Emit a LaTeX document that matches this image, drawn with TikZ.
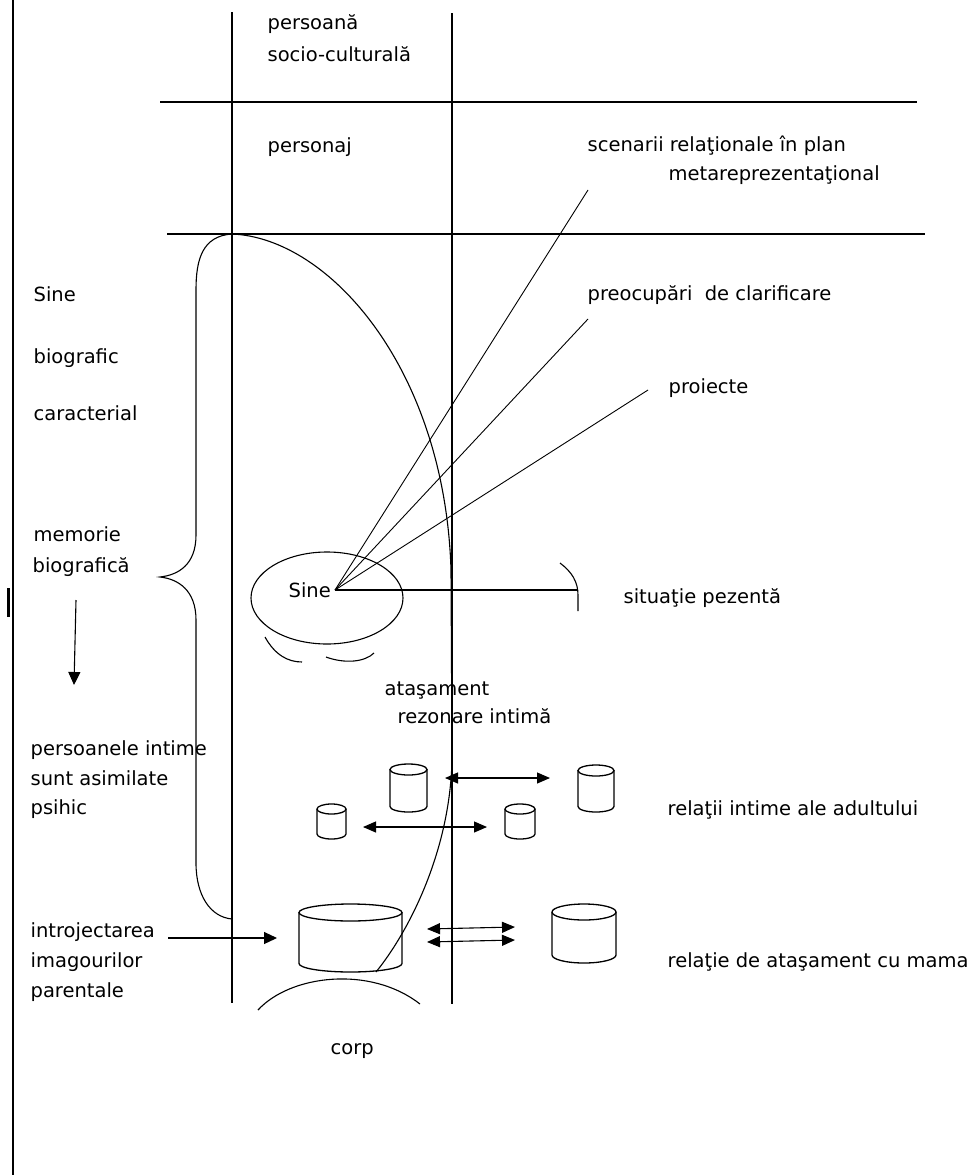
\documentclass[tikz,border=0pt]{standalone}
\usepackage{fontspec}
\setmainfont{DejaVu Sans}
\usetikzlibrary{arrows.meta,shapes.geometric}
\newcommand\mkcyl[6]{%
  \pgfmathsetmacro\cylcx{(#2+#3)/2}%
  \pgfmathsetmacro\cylrx{(#3-#2)/2}%
  \pgfmathsetmacro\cylcy{(#4+#5)/2}%
  \draw[cylline] (#2,#4+#6) -- (#2,#5-#6) arc[start angle=180,end angle=360,x radius=\cylrx pt,y radius=#6pt] -- (#3,#4+#6);
  \draw[cylline] (\cylcx,#4+#6) ellipse[x radius=\cylrx pt,y radius=#6pt];
  \node[inner sep=0,minimum width={(#3-#2)*1pt},minimum height={(#5-#4)*1pt}] (#1) at (\cylcx,\cylcy) {};%
}
\begin{document}
\begin{tikzpicture}[x=1pt,y=-1pt,line width=1.3pt,
  lbl/.style={anchor=base west,inner sep=0,font=\fontsize{19.5}{24}\selectfont},
  ray/.style={line width=0.9pt},
  cylline/.style={line width=1.3pt},
  arr/.style={-{Triangle[length=13pt,width=12pt]}},
  darr/.style={{Triangle[length=13pt,width=11pt]}-{Triangle[length=13pt,width=11pt]}}]
\useasboundingbox (0,0) rectangle (976,1175);
\fill[white] (0,0) rectangle (976,1175);

% frame and grid lines
\coordinate (b1) at (13,0); \coordinate (b2) at (13,1175);
\draw (b1) -- (b2);
\coordinate (m1) at (8,588); \coordinate (m2) at (8,617);
\draw[line width=3pt] (m1) -- (m2);
\coordinate (v1t) at (232,12); \coordinate (v1b) at (232,1003);
\coordinate (v2t) at (452,13); \coordinate (v2b) at (452,1004);
\draw (v1t) -- (v1b);
\draw (v2t) -- (v2b);
\coordinate (h1l) at (160,102); \coordinate (h1r) at (917,102);
\coordinate (h2l) at (167,234); \coordinate (h2r) at (925,234);
\draw (h1l) -- (h1r);
\draw (h2l) -- (h2r);

% brace
\draw[line width=1.1pt] (232,234) .. controls (202,236) and (196,260) .. (196,290) -- (196,535)
  .. controls (196,565) and (178,575) .. (160,577)
  .. controls (178,579) and (196,590) .. (196,620) -- (196,863)
  .. controls (196,895) and (210,917) .. (232,919);

% big curve
\draw[line width=1.1pt] (232,234) .. controls (330,238) and (445,370) .. (451,570) -- (452,760)
  .. controls (450,850) and (410,930) .. (376,972);

% Sine ellipse
\node[draw,ellipse,line width=1.1pt,minimum width=152pt,minimum height=92pt,inner sep=0] (self) at (327,598) {};
\node[lbl] (sinein) at (288,597) {Sine};
\coordinate (hub) at (335,590);
\coordinate (r1) at (588,190);
\coordinate (r2) at (588,319);
\coordinate (r3) at (648,390);
\draw[ray] (hub) -- (r1);
\draw[ray] (hub) -- (r2);
\draw[ray] (hub) -- (r3);
\coordinate (hend) at (578,590);
\draw (hub) -- (hend);
\draw[line width=1.1pt] (560,563) .. controls (572,572) and (578,582) .. (578,595) -- (578,611);
\draw[line width=1.1pt] (265,637) .. controls (275,655) and (288,662) .. (302,662);
\draw[line width=1.1pt] (326,657) .. controls (345,664) and (365,662) .. (374,653);

% corp arc
\draw[line width=1.1pt] (258,1010) .. controls (290,975) and (370,965) .. (420,1004);

% cylinders
\mkcyl{c1}{390}{427}{764}{812}{5.5}
\mkcyl{c2}{578}{614}{765}{812}{5.5}
\mkcyl{c3}{317}{346}{804}{839}{5}
\mkcyl{c4}{505}{535}{804}{839}{5}
\mkcyl{c5}{299}{402}{904}{972}{8.5}
\mkcyl{c6}{552}{616}{904}{963}{8}

% arrows
\coordinate (a1s) at (445,778); \coordinate (a1e) at (550,778);
\draw[darr,line width=1.1pt] (a1s) -- (a1e);
\coordinate (a2s) at (363,827); \coordinate (a2e) at (487,827);
\draw[darr,line width=1.1pt] (a2s) -- (a2e);
\coordinate (a3s) at (427,929); \coordinate (a3e) at (515,927);
\draw[darr,line width=1.1pt] (a3s) -- (a3e);
\coordinate (a4s) at (427,942); \coordinate (a4e) at (515,940);
\draw[darr,line width=1.1pt] (a4s) -- (a4e);
\coordinate (dl1) at (76,600); \coordinate (dl2) at (74,685);
\draw[arr,line width=1.1pt] (dl1) -- (dl2);
\coordinate (in1) at (168,938); \coordinate (in2) at (277,938);
\draw[arr,line width=1.1pt] (in1) -- (in2);

% labels
\node[lbl] (t1) at (267,29) {persoană};
\node[lbl] (t2) at (267,61) {socio-culturală};
\node[lbl] (t3) at (267,152) {personaj};
\node[lbl] (t4) at (587,151) {scenarii relaţionale în plan};
\node[lbl] (t5) at (668,180) {metareprezentaţional};
\node[lbl] (t6) at (587,300) {preocupări~ de clarificare};
\node[lbl] (t7) at (668,393) {proiecte};
\node[lbl] (t8) at (33,301) {Sine};
\node[lbl] (t9) at (33,363) {biografic};
\node[lbl] (t10) at (33,420) {caracterial};
\node[lbl] (t11) at (33,541) {memorie};
\node[lbl] (t12) at (32,572) {biografică};
\node[lbl] (t13) at (623,603) {situaţie pezentă};
\node[lbl] (t14) at (384,695) {ataşament};
\node[lbl] (t15) at (397,723) {rezonare intimă};
\node[lbl] (t16) at (30,755) {persoanele intime};
\node[lbl] (t17) at (30,785) {sunt asimilate};
\node[lbl] (t18) at (30,814) {psihic};
\node[lbl] (t19) at (667,815) {relaţii intime ale adultului};
\node[lbl] (t20) at (30,937) {introjectarea};
\node[lbl] (t21) at (30,967) {imagourilor};
\node[lbl] (t22) at (30,997) {parentale};
\node[lbl] (t23) at (667,967) {relaţie de ataşament cu mama};
\node[lbl] (t24) at (330,1054) {corp};
\end{tikzpicture}
\end{document}
